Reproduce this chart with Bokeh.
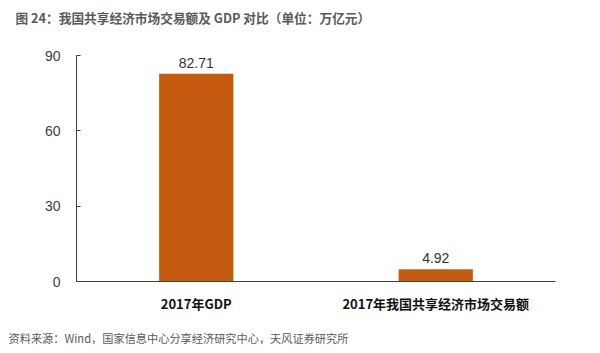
from bokeh.plotting import figure
from bokeh.layouts import column, row
from bokeh.models import ColumnDataSource, LabelSet, FixedTicker, Range1d, Spacer
from bokeh.core.properties import value
from bokeh.embed import file_html
from bokeh.resources import INLINE

categories = ["2017年GDP", "2017年我国共享经济市场交易额"]
values = [82.71, 4.92]
value_labels = ["82.71", "4.92"]
y_ticks = [0, 30, 60, 90]
title_text = "图 24：我国共享经济市场交易额及 GDP 对比（单位：万亿元）"
source_text = "资料来源：Wind，国家信息中心分享经济研究中心，天风证券研究所"

FONT = "Noto Sans CJK SC"
NUMFONT = "Liberation Sans"
W = 600
TOP_H, MAIN_H, BOT_H = 29, 288, 32
BL, BR = 76, 45  # left / right borders shared by all rows
RULE = "#F0B48A"


def strip_fig(h):
    # frame spans canvas x BL..W-BR, so data x equals canvas pixels
    f = figure(width=W, height=h, x_range=Range1d(BL, W - BR), y_range=Range1d(h, 0),
               output_backend="svg", toolbar_location=None,
               x_axis_type=None, y_axis_type=None,
               min_border_left=BL, min_border_right=BR, min_border_top=0, min_border_bottom=0)
    f.outline_line_color = None
    f.xgrid.grid_line_color = None
    f.ygrid.grid_line_color = None
    return f


def rule_row():
    r = figure(width=W - 10, height=2, output_backend="svg", toolbar_location=None,
               x_axis_type=None, y_axis_type=None, min_border=0,
               background_fill_color=RULE, border_fill_color=RULE)
    r.outline_line_color = None
    r.xgrid.grid_line_color = None
    r.ygrid.grid_line_color = None
    return row(Spacer(width=5, height=2), r, spacing=0)


# header strip
top = strip_fig(TOP_H)
r1 = top.text(x=[15], y=[17], text=[title_text], text_font=value(FONT), text_font_size="12.7px",
              text_font_style="bold", text_color="#595959", text_baseline="middle")
r1.level = "overlay"

# main chart
src = ColumnDataSource(dict(cat=categories, val=values, lab=value_labels))
p = figure(width=W, height=MAIN_H, x_range=categories, y_range=Range1d(0, 90),
           output_backend="svg", toolbar_location=None,
           min_border_left=BL, min_border_right=BR, min_border_top=24, min_border_bottom=38)
p.outline_line_color = None
p.xgrid.grid_line_color = None
p.ygrid.grid_line_color = None
p.x_range.range_padding = 0

p.vbar(x="cat", top="val", width=0.31, source=src, fill_color="#C55A11", line_color=None)

p.add_layout(LabelSet(x="cat", y="val", text="lab", source=src, y_offset=6,
                      text_align="center", text_baseline="bottom",
                      text_font=value(NUMFONT), text_font_size="14px", text_color="#333333"))

p.yaxis.ticker = FixedTicker(ticks=y_ticks)
p.yaxis.major_tick_in = 4
p.yaxis.major_tick_out = 0
p.yaxis.minor_tick_line_color = None
p.yaxis.axis_line_color = "#404040"
p.yaxis.major_tick_line_color = "#404040"
p.yaxis.major_label_text_font = NUMFONT
p.yaxis.major_label_text_font_size = "14px"
p.yaxis.major_label_text_color = "#404040"
p.yaxis.major_label_standoff = 16

p.xaxis.major_tick_line_color = None
p.xaxis.major_tick_in = 0
p.xaxis.major_tick_out = 0
p.xaxis.axis_line_color = "#404040"
p.xaxis.major_label_text_font = FONT
p.xaxis.major_label_text_font_size = "13px"
p.xaxis.major_label_text_font_style = "bold"
p.xaxis.major_label_text_color = "#111111"
p.xaxis.major_label_standoff = 12

# footer strip
bot = strip_fig(BOT_H)
r4 = bot.text(x=[8], y=[16], text=[source_text], text_font=value(FONT), text_font_size="11.2px",
              text_color="#595959", text_baseline="middle")
r4.level = "overlay"

layout = column(top, rule_row(), p, rule_row(), bot, spacing=0)
open("out.html", "w").write(file_html(layout, INLINE))
